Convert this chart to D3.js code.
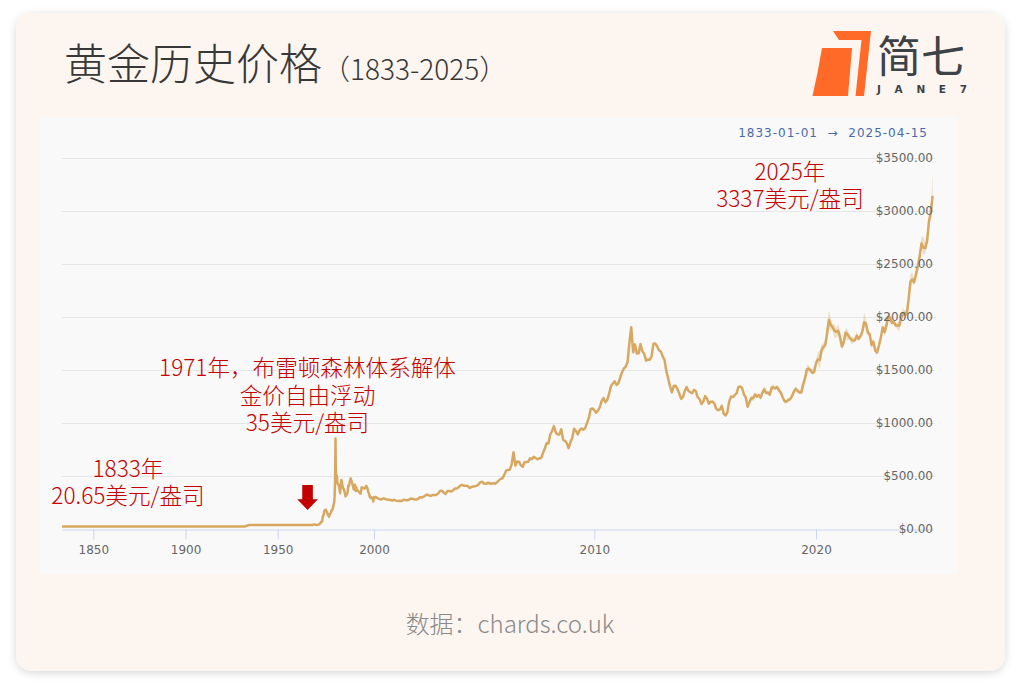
<!DOCTYPE html>
<html>
<head>
<meta charset="utf-8">
<script src="https://cdn.jsdelivr.net/npm/d3@7"></script>
<style>
  html, body { margin: 0; padding: 0; background: #fff; }
  svg { display: block; }
</style>
</head>
<body>
<div id="chart"></div>
<script>
(function(d3) {
  'use strict';

  var xTicks = [1850, 1900, 1950, 2000, 2010, 2020];
  var yTicks = [0, 500, 1000, 1500, 2000, 2500, 3000, 3500];

  // [decimal year, USD per oz] - sparse points before monthly data starts
  var goldStandard = [[1833, 20.65], [1932, 20.67], [1934.5, 35], [1968, 35]];
  var floatingEra = [
    [1969, 41], [1970, 36], [1971, 38], [1971.6, 42], [1972, 48], [1972.6, 66],
    [1973, 65], [1973.5, 120], [1974, 140], [1974.2, 170], [1974.9, 180],
    [1975.5, 160], [1976, 135], [1976.6, 112], [1977, 135], [1977.6, 150],
    [1978, 175], [1978.5, 185], [1978.9, 215], [1979.3, 245], [1979.55, 300],
    [1979.75, 420], [1979.9, 600], [1980.0, 850], [1980.15, 560], [1980.4, 470],
    [1980.7, 500], [1981, 430], [1981.3, 420], [1981.7, 410], [1982, 385],
    [1982.4, 335], [1982.8, 430], [1983.1, 460], [1983.5, 420], [1983.9, 385],
    [1984.4, 370], [1984.8, 340], [1985.2, 305], [1985.6, 320], [1985.9, 325],
    [1986.3, 345], [1986.7, 410], [1987, 405], [1987.5, 450], [1987.9, 475],
    [1988.3, 450], [1988.7, 430], [1989, 405], [1989.5, 370], [1989.9, 400],
    [1990.1, 415], [1990.5, 355], [1990.8, 390], [1991.2, 360], [1991.6, 360],
    [1992, 350], [1992.5, 340], [1993, 330], [1993.6, 390], [1994, 385],
    [1994.5, 385], [1995, 380], [1995.5, 387], [1996, 405], [1996.5, 385],
    [1997, 350], [1997.5, 325], [1997.9, 295], [1998.3, 300], [1998.7, 290],
    [1999.3, 280], [1999.6, 256], [1999.8, 300], [1999.95, 290]
  ];

  // monthly averages, Jan 2000 - Dec 2009
  var monthly2000s = [
    284, 300, 286, 280, 275, 286, 282, 275, 273, 270, 266, 272,
    265, 262, 263, 261, 272, 270, 268, 273, 283, 283, 276, 276,
    282, 296, 294, 302, 314, 322, 314, 310, 319, 317, 319, 333,
    357, 359, 340, 328, 355, 356, 351, 360, 379, 379, 389, 407,
    414, 405, 406, 404, 384, 392, 398, 400, 406, 420, 439, 442,
    424, 423, 434, 429, 422, 431, 424, 438, 456, 470, 476, 510,
    549, 555, 557, 610, 722, 596, 633, 632, 598, 585, 627, 629,
    631, 665, 655, 679, 667, 655, 665, 665, 712, 754, 806, 803,
    889, 922, 968, 909, 888, 889, 939, 839, 829, 806, 760, 816,
    858, 943, 924, 890, 928, 946, 934, 949, 996, 1043, 1127, 1134
  ];
  // Jan 2010 - Dec 2019
  var monthly2010s = [
    1118, 1095, 1113, 1148, 1205, 1232, 1193, 1215, 1271, 1343, 1370, 1391,
    1356, 1372, 1424, 1474, 1512, 1529, 1572, 1756, 1900, 1665, 1739, 1652,
    1656, 1742, 1673, 1650, 1585, 1596, 1594, 1626, 1744, 1747, 1722, 1684,
    1671, 1627, 1593, 1487, 1414, 1343, 1286, 1347, 1349, 1316, 1275, 1225,
    1244, 1300, 1336, 1299, 1287, 1279, 1311, 1296, 1239, 1222, 1176, 1200,
    1251, 1227, 1179, 1198, 1199, 1181, 1131, 1117, 1125, 1159, 1086, 1068,
    1097, 1199, 1246, 1242, 1260, 1276, 1337, 1341, 1326, 1266, 1238, 1151,
    1192, 1234, 1231, 1266, 1246, 1260, 1237, 1283, 1315, 1280, 1283, 1265,
    1331, 1331, 1325, 1335, 1303, 1282, 1238, 1202, 1198, 1215, 1221, 1250,
    1291, 1320, 1301, 1286, 1284, 1359, 1413, 1500, 1510, 1495, 1471, 1480
  ];
  // Jan 2020 - Apr 2025
  var monthly2020s = [
    1560, 1597, 1592, 1683, 1716, 1732, 1846, 1968, 1922, 1900, 1866, 1858,
    1867, 1808, 1718, 1760, 1850, 1834, 1807, 1785, 1775, 1777, 1821, 1790,
    1817, 1856, 1948, 1937, 1849, 1836, 1733, 1764, 1681, 1664, 1726, 1798,
    1898, 1855, 1913, 1999, 1992, 1943, 1951, 1918, 1916, 1916, 1985, 2026,
    2034, 2023, 2158, 2331, 2351, 2326, 2399, 2471, 2571, 2690, 2651, 2648,
    2710, 2895, 2983, 3140
  ];

  // monthly high / low, Jan 2017 - Apr 2025
  var bandHigh = [
    1215, 1255, 1255, 1290, 1265, 1285, 1260, 1305, 1345, 1300, 1300, 1290,
    1355, 1360, 1345, 1360, 1320, 1305, 1260, 1215, 1215, 1235, 1235, 1280,
    1320, 1345, 1320, 1305, 1300, 1410, 1440, 1540, 1545, 1515, 1500, 1515,
    1600, 1660, 1680, 1740, 1750, 1770, 1940, 2060, 1980, 1930, 1930, 1890,
    1930, 1860, 1750, 1790, 1890, 1880, 1830, 1810, 1810, 1800, 1860, 1810,
    1840, 1900, 2040, 1980, 1880, 1860, 1780, 1790, 1720, 1700, 1770, 1820,
    1935, 1900, 1980, 2030, 2040, 1970, 1970, 1940, 1940, 1980, 2030, 2080,
    2060, 2050, 2200, 2400, 2420, 2360, 2440, 2510, 2640, 2760, 2750, 2700,
    2780, 2940, 3050, 3355
  ];
  var bandLow = [
    1170, 1215, 1200, 1245, 1225, 1240, 1215, 1265, 1285, 1265, 1270, 1245,
    1305, 1310, 1305, 1315, 1285, 1260, 1220, 1180, 1185, 1195, 1205, 1235,
    1265, 1300, 1285, 1270, 1270, 1320, 1395, 1460, 1480, 1475, 1455, 1460,
    1530, 1560, 1500, 1620, 1690, 1700, 1780, 1890, 1870, 1870, 1800, 1800,
    1830, 1740, 1690, 1730, 1800, 1770, 1790, 1740, 1750, 1760, 1790, 1770,
    1800, 1810, 1900, 1900, 1820, 1810, 1700, 1730, 1650, 1640, 1680, 1780,
    1870, 1820, 1850, 1970, 1950, 1920, 1930, 1900, 1880, 1860, 1950, 2000,
    2010, 2000, 2110, 2280, 2310, 2300, 2370, 2420, 2520, 2640, 2580, 2600,
    2650, 2850, 2920, 3000
  ];

  var width = 1021, height = 685;
  var red = '#c40000';
  var gold = '#d8a860';
  var cjk = '"Noto Sans CJK SC", "Noto Sans", sans-serif';
  var axisFont = '"DejaVu Sans", Verdana, sans-serif';

  var monthly = function(startYear, values) {
    return values.map(function(v, i) { return [startYear + i / 12, v]; });
  };

  var series = goldStandard.concat(
    floatingEra,
    monthly(2000, monthly2000s),
    monthly(2010, monthly2010s),
    monthly(2020, monthly2020s)
  );
  var band = bandHigh.map(function(h, i) { return [2017 + i / 12, bandLow[i], h]; });

  var svg = d3.select('#chart').append('svg')
    .attr('width', width)
    .attr('height', height);

  var defs = svg.append('defs');
  var shadow = defs.append('filter').attr('id', 'cardshadow')
    .attr('x', -0.05).attr('y', -0.05).attr('width', 1.1).attr('height', 1.1);
  shadow.append('feDropShadow')
    .attr('dx', 0).attr('dy', 2).attr('stdDeviation', 4.5)
    .attr('flood-color', '#000').attr('flood-opacity', 0.16);

  // card + chart panel
  svg.append('rect')
    .attr('x', 16).attr('y', 13).attr('width', 989).attr('height', 658)
    .attr('rx', 16).attr('fill', '#fdf6f0')
    .attr('filter', 'url(#cardshadow)');

  svg.append('rect')
    .attr('x', 40).attr('y', 117).attr('width', 918).attr('height', 457)
    .attr('fill', '#f9f9f9');

  // title
  var title = svg.append('text')
    .attr('x', 64).attr('y', 80)
    .attr('font-family', cjk)
    .attr('font-weight', 300)
    .attr('fill', '#383838');
  title.append('tspan').attr('font-size', 43).text('黄金历史价格');
  title.append('tspan').attr('font-size', 28).text('（1833-2025）');

  // logo
  var logo = svg.append('g');
  logo.append('path')
    .attr('d', 'M833,31 L871,31 L864,96 L855.5,96 L861.5,40 L839,40 Z')
    .attr('fill', '#ff6a28');
  logo.append('path')
    .attr('d', 'M822,48 L852,48 L848,96 L812.5,96 Q818,72 822,48 Z')
    .attr('fill', '#ff6a28');
  var logoText = logo.append('text')
    .attr('fill', '#3d4247');
  logoText.append('tspan')
    .attr('x', 877).attr('y', 73)
    .attr('font-family', cjk).attr('font-size', 44)
    .text('简七');
  logoText.append('tspan')
    .attr('x', 877).attr('y', 93)
    .attr('font-family', axisFont).attr('font-size', 10.5).attr('font-weight', 'bold')
    .attr('textLength', 90).attr('lengthAdjust', 'spacing')
    .text('JANE7');

  // date range
  svg.append('text')
    .attr('x', 928).attr('y', 137)
    .attr('text-anchor', 'end')
    .attr('font-family', axisFont).attr('font-size', 12)
    .attr('letter-spacing', 1)
    .style('white-space', 'pre')
    .attr('fill', '#4a69ad')
    .text('1833-01-01  \u2192  2025-04-15');

  // scales: older history is compressed, recent decades widened
  var x = d3.scaleLinear()
    .domain([1833, 1950, 2000, 2010, 2020, 2025.29])
    .range([62, 277.7, 374, 594.3, 816, 933.5]);
  var y = d3.scaleLinear()
    .domain([0, 3500])
    .range([528.7, 157.7]);

  // gridlines
  svg.append('g').selectAll('line')
    .data(yTicks.filter(function(d) { return d > 0; }))
    .enter().append('line')
    .attr('x1', 62).attr('x2', 935)
    .attr('y1', function(d) { return Math.round(y(d)) + 0.5; })
    .attr('y2', function(d) { return Math.round(y(d)) + 0.5; })
    .attr('stroke', '#e6e6e6');

  // x axis
  var xAxis = svg.append('g')
    .attr('transform', 'translate(0,' + (Math.round(y(0)) + 0.5) + ')')
    .call(d3.axisBottom(x)
      .tickValues(xTicks)
      .tickSize(10)
      .tickSizeOuter(0)
      .tickPadding(6)
      .tickFormat(d3.format('d')));
  xAxis.select('.domain').attr('stroke', '#ccd6eb');
  xAxis.selectAll('.tick line').attr('stroke', '#ccd6eb');
  xAxis.selectAll('.tick text')
    .attr('font-family', axisFont).attr('font-size', 12)
    .attr('fill', '#666');

  // band + line
  svg.append('path')
    .datum(band)
    .attr('d', d3.area()
      .x(function(d) { return x(d[0]); })
      .y0(function(d) { return y(d[1]); })
      .y1(function(d) { return y(d[2]); }))
    .attr('fill', gold)
    .attr('fill-opacity', 0.32);

  svg.append('path')
    .datum(series)
    .attr('d', d3.line()
      .x(function(d) { return x(d[0]); })
      .y(function(d) { return y(d[1]); }))
    .attr('fill', 'none')
    .attr('stroke', gold)
    .attr('stroke-width', 2.5)
    .attr('stroke-linejoin', 'round');

  // y labels (inside plot, right side)
  svg.append('g').selectAll('text')
    .data(yTicks)
    .enter().append('text')
    .attr('x', 933)
    .attr('y', function(d) { return y(d); })
    .attr('dy', '0.36em')
    .attr('text-anchor', 'end')
    .attr('font-family', axisFont).attr('font-size', 12)
    .attr('fill', '#666')
    .text(function(d) { return '$' + d3.format('.2f')(d); });

  // annotations, one text block each
  var notes = [
    { cx: 128, lines: [['1833年', 476.5], ['20.65美元/盎司', 503.5]] },
    { cx: 307.5, lines: [['1971年，布雷顿森林体系解体', 376], ['金价自由浮动', 403.5], ['35美元/盎司', 431]] },
    { cx: 790, lines: [['2025年', 180], ['3337美元/盎司', 206.5]] }
  ];
  notes.forEach(function(n) {
    svg.append('text')
      .attr('text-anchor', 'middle')
      .attr('font-family', cjk).attr('font-size', 22.6)
      .attr('font-weight', 300)
      .attr('fill', red)
      .selectAll('tspan')
      .data(n.lines)
      .enter().append('tspan')
      .attr('x', n.cx)
      .attr('y', function(d) { return d[1]; })
      .text(function(d) { return d[0]; });
  });

  // arrow pointing at the 35 dollar line
  var ax = x(1965.5);
  var tipY = y(35) - 15;
  svg.append('path')
    .attr('d', 'M' + (ax - 5.3) + ',' + (tipY - 25) +
      ' h10.6 v14.3 h5 L' + ax + ',' + tipY +
      ' L' + (ax - 10.3) + ',' + (tipY - 10.7) + ' h5 Z')
    .attr('fill', red);

  // source
  svg.append('text')
    .attr('x', 510).attr('y', 633)
    .attr('text-anchor', 'middle')
    .attr('font-family', cjk).attr('font-size', 24)
    .attr('font-weight', 300)
    .attr('fill', '#8a8a8a')
    .text('数据：chards.co.uk');
}(d3));
</script>
</body>
</html>
